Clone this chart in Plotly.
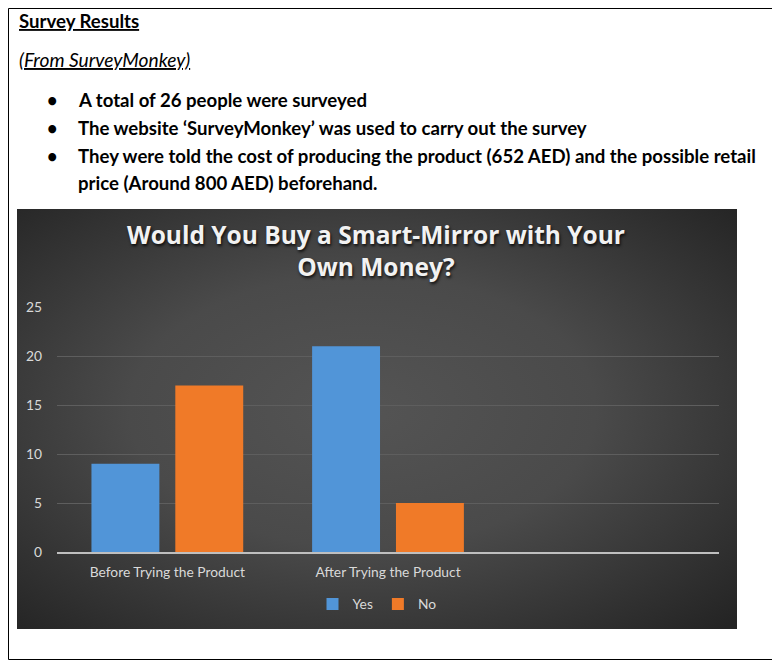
import base64
import plotly.graph_objects as go

categories = ["Before Trying the Product", "After Trying the Product", "  "]
yes_values = [9, 21, None]
no_values = [17, 5, None]
y_ticks = [0, 5, 10, 15, 20, 25]

OFF = 8  # page body margin of the html page
W, H = 780 - OFF, 664 - OFF
PL, PR, PT, PB = 57, 719, 307, 552  # plot area in page pixels


def px(x):
    return (x - PL) / (PR - PL)


def py(y):
    return (PB - y) / (PB - PT)


svg = (
    '<svg xmlns="http://www.w3.org/2000/svg" width="720" height="420" viewBox="0 0 720 420" preserveAspectRatio="none">'
    '<defs><radialGradient id="g" cx="48%" cy="48%" r="72%" fx="48%" fy="48%">'
    '<stop offset="0%" stop-color="#545454"/>'
    '<stop offset="45%" stop-color="#4a4a4a"/>'
    '<stop offset="100%" stop-color="#242424"/>'
    '</radialGradient></defs>'
    '<rect width="720" height="420" fill="url(#g)"/></svg>'
)
bg_src = "data:image/svg+xml;base64," + base64.b64encode(svg.encode()).decode()

fig = go.Figure()
fig.add_trace(go.Bar(name="Yes", x=categories, y=yes_values,
                     marker=dict(color="#5195d8", line=dict(width=0))))
fig.add_trace(go.Bar(name="No", x=categories, y=no_values,
                     marker=dict(color="#f07a28", line=dict(width=0))))

FONT = "Lato"
DOC = 18.6
annotations = [
    dict(text="<b>Survey Results</b>", x=px(17), y=py(21), xanchor="left", yanchor="middle",
         font=dict(family=FONT, size=DOC, color="black", lineposition="under")),
    dict(text="<i>(From SurveyMonkey)</i>", x=px(17), y=py(60), xanchor="left", yanchor="middle",
         font=dict(family=FONT, size=DOC + 0.6, color="black", lineposition="under")),
]
bullets = [
    ("A total of 26 people were surveyed", 100, True),
    ("The website \u2018SurveyMonkey\u2019 was used to carry out the survey", 128, True),
    ("They were told the cost of producing the product (652 AED) and the possible retail", 156, True),
    ("price (Around 800 AED) beforehand.", 183, False),
]
for text, yy, has_bullet in bullets:
    annotations.append(dict(text="<b>" + text + "</b>", x=px(76), y=py(yy), xanchor="left",
                            yanchor="middle", font=dict(family=FONT, size=DOC, color="black")))
    if has_bullet:
        annotations.append(dict(text="<b>\u2022</b>", x=px(51.5), y=py(yy), xanchor="center",
                                yanchor="middle", font=dict(family=FONT, size=18, color="black")))

annotations.append(dict(
    text="<b>Would You Buy a Smart-Mirror with Your<br>Own Money?</b>",
    x=px(376), y=py(251), xanchor="center", yanchor="middle", align="center",
    font=dict(family="Open Sans", size=24.5, color="#f2f2f2", shadow="1px 2px 3px rgba(0,0,0,0.8)"),
))
for a in annotations:
    a.update(xref="paper", yref="paper", showarrow=False)

TICK = 13.8
fig.update_layout(
    width=W, height=H,
    margin=dict(l=PL - OFF, r=W - (PR - OFF), t=PT - OFF, b=H - (PB - OFF), pad=0),
    paper_bgcolor="white",
    plot_bgcolor="rgba(0,0,0,0)",
    barmode="group", bargap=0.24, bargroupgap=0.19,
    font=dict(family=FONT, size=TICK, color="#d9d9d9"),
    showlegend=True,
    legend=dict(orientation="h", x=px(377), y=py(604), xanchor="center", yanchor="middle",
                xref="paper", yref="paper", font=dict(family=FONT, size=TICK, color="#d9d9d9"),
                bgcolor="rgba(0,0,0,0)", itemwidth=30, traceorder="normal"),
    annotations=annotations,
    images=[dict(source=bg_src, xref="paper", yref="paper", x=px(17), y=py(209),
                 sizex=720 / (PR - PL), sizey=420 / (PB - PT), xanchor="left", yanchor="top",
                 sizing="stretch", layer="below")],
    shapes=[dict(type="rect", xref="paper", yref="paper", x0=px(8.5), x1=px(773.5),
                 y0=py(8.5), y1=py(659.5), line=dict(color="black", width=1),
                 fillcolor="rgba(0,0,0,0)", layer="below")],
    xaxis=dict(type="category", range=[-0.5, 2.5], showgrid=False, zeroline=False,
               showline=True, linecolor="#bfbfbf", linewidth=2, ticks="",
               ticklabelstandoff=6, tickfont=dict(family=FONT, size=TICK, color="#d9d9d9")),
    yaxis=dict(range=[0, 25], tickvals=y_ticks, showgrid=True, gridcolor="#5e5e5e",
               gridwidth=1, zeroline=False, showline=False, ticks="",
               ticklabelstandoff=14, tickfont=dict(family=FONT, size=TICK, color="#d9d9d9")),
)

fig.write_html("out.html")
